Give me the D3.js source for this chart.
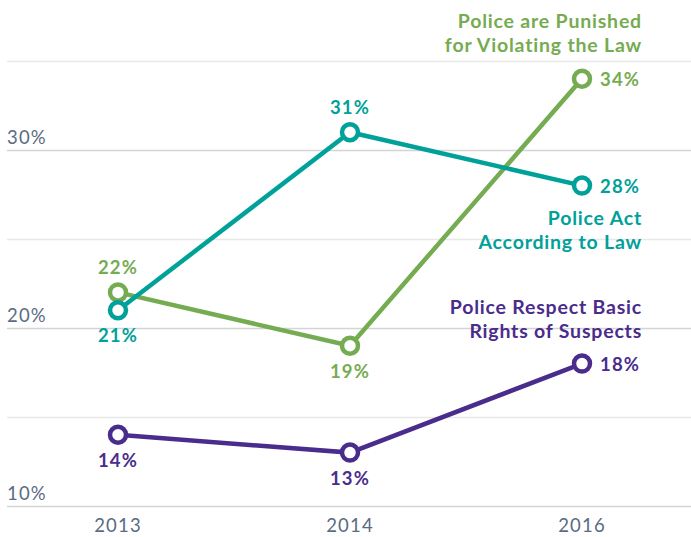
<!DOCTYPE html>
<html>
<head>
<meta charset="utf-8">
<script src="https://cdn.jsdelivr.net/npm/d3@7"></script>
<style>
  body { margin: 0; background: #fff; }
  text { font-family: Lato, "Open Sans", sans-serif; }
  .tick-label { fill: #5b6b80; font-size: 18.5px; letter-spacing: 1.2px; }
  .val { font-weight: 700; font-size: 18.5px; letter-spacing: 1.2px; }
  .name { font-weight: 700; font-size: 19.5px; letter-spacing: 0.8px; }
</style>
</head>
<body>
<script>
var w = 691;
var h = 537;

var years = ["2013", "2014", "2016"];
var yTicks = [10, 20, 30];
var gridValues = [10, 15, 20, 25, 30, 35];

var punished = [22, 19, 34];
var actLaw = [21, 31, 28];
var respect = [14, 13, 18];

// label placement per point: above / below / right
var series = [
  { name: ["Police are Punished", "for Violating the Law"], color: "#75ac52", values: punished,
    pos: ["above", "below", "right"], nameY: 28 },
  { name: ["Police Act", "According to Law"], color: "#00a199", values: actLaw,
    pos: ["below", "above", "right"], nameY: 225 },
  { name: ["Police Respect Basic", "Rights of Suspects"], color: "#4a2c8c", values: respect,
    pos: ["below", "below", "right"], nameY: 314 }
];

var xScale = d3.scalePoint()
    .domain(years)
    .range([118, 582]);

var yScale = d3.scaleLinear()
    .domain([10, 35])
    .range([506, 61]);

var svg = d3.select("body")
    .append("svg")
    .attr("width", w)
    .attr("height", h);

// grid lines
svg.selectAll("line.grid")
    .data(gridValues)
    .enter()
    .append("line")
    .attr("class", "grid")
    .attr("x1", 7)
    .attr("x2", w)
    .attr("y1", function(d) { return yScale(d) + 0.5; })
    .attr("y2", function(d) { return yScale(d) + 0.5; })
    .attr("stroke", function(d) { return d % 10 === 0 ? "#d4d4d4" : "#e8e8e8"; })
    .attr("stroke-width", 1.5);

// y tick labels
svg.selectAll("text.tick-label")
    .data(yTicks)
    .enter()
    .append("text")
    .attr("class", "tick-label")
    .attr("x", 7)
    .attr("y", function(d) { return yScale(d) - 6; })
    .text(function(d) { return d + "%"; });

// x axis labels
svg.selectAll("text.year")
    .data(years)
    .enter()
    .append("text")
    .attr("class", "tick-label")
    .attr("x", function(d) { return xScale(d); })
    .attr("y", 532)
    .attr("text-anchor", "middle")
    .text(function(d) { return d; });

var line = d3.line()
    .x(function(d, i) { return xScale(years[i]); })
    .y(function(d) { return yScale(d); });

series.forEach(function(s) {
  var g = svg.append("g");

  g.append("path")
    .datum(s.values)
    .attr("d", line)
    .attr("fill", "none")
    .attr("stroke", s.color)
    .attr("stroke-width", 4.5);

  g.selectAll("circle")
    .data(s.values)
    .enter()
    .append("circle")
    .attr("cx", function(d, i) { return xScale(years[i]); })
    .attr("cy", function(d) { return yScale(d); })
    .attr("r", 8)
    .attr("fill", "#fff")
    .attr("stroke", s.color)
    .attr("stroke-width", 4.5);

  g.selectAll("text.val")
    .data(s.values)
    .enter()
    .append("text")
    .attr("class", "val")
    .attr("fill", s.color)
    .attr("x", function(d, i) {
      var x = xScale(years[i]);
      return s.pos[i] === "right" ? x + 18 : x;
    })
    .attr("y", function(d, i) {
      var y = yScale(d);
      if (s.pos[i] === "above") return y - 18;
      if (s.pos[i] === "below") return y + 32;
      return y + 7;
    })
    .attr("text-anchor", function(d, i) { return s.pos[i] === "right" ? "start" : "middle"; })
    .text(function(d) { return d + "%"; });

  g.selectAll("text.name")
    .data(s.name)
    .enter()
    .append("text")
    .attr("class", "name")
    .attr("fill", s.color)
    .attr("x", 642)
    .attr("y", function(d, i) { return s.nameY + i * 24; })
    .attr("text-anchor", "end")
    .text(function(d) { return d; });
});
</script>
</body>
</html>
